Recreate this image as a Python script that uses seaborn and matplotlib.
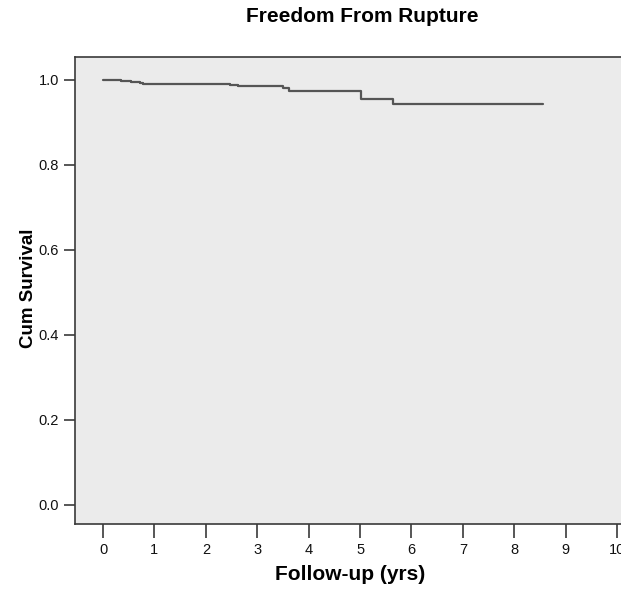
import matplotlib
matplotlib.use("Agg")
import matplotlib.pyplot as plt
import seaborn as sns
import pandas as pd

# Kaplan-Meier estimate
follow_up_yrs = [0.0, 0.35, 0.55, 0.72, 0.78, 2.47, 2.63, 3.50, 3.62, 5.02, 5.65, 8.55]
cum_survival = [1.0, 0.997, 0.995, 0.993, 0.990, 0.989, 0.985, 0.980, 0.974, 0.955, 0.944, 0.944]
x_ticks = list(range(0, 11))
y_ticks = [0.0, 0.2, 0.4, 0.6, 0.8, 1.0]

sns.set_style("ticks", {"axes.facecolor": "#EBEBEB", "axes.edgecolor": "#3a3a3a",
                        "text.color": "black", "axes.labelcolor": "black"})
plt.rcParams["font.family"] = ["Liberation Sans", "DejaVu Sans"]

df = pd.DataFrame({"Follow-up (yrs)": follow_up_yrs, "Cum Survival": cum_survival})

fig = plt.figure(figsize=(6.21, 5.92), dpi=100)
ax = fig.add_axes([75 / 621, 68 / 592, 576 / 621, 467 / 592])

sns.lineplot(data=df, x="Follow-up (yrs)", y="Cum Survival", drawstyle="steps-post",
             color="#555555", linewidth=1.6, ax=ax, estimator=None)

ax.set_xlim(-0.545, 10.66)
ax.set_ylim(-0.045, 1.054)
ax.set_xticks(x_ticks)
ax.set_yticks(y_ticks)
ax.set_yticklabels([f"{v:.1f}" for v in y_ticks])
ax.tick_params(axis="both", labelsize=10.5, colors="#3a3a3a", labelcolor="#111111", width=1.2)
ax.tick_params(axis="x", length=10)
ax.tick_params(axis="y", length=8)
for s in ax.spines.values():
    s.set_visible(True)
    s.set_linewidth(1.2)

ax.set_xlabel("Follow-up (yrs)", fontsize=15, fontweight="bold", color="black")
ax.set_ylabel("Cum Survival", fontsize=13.5, fontweight="bold", color="black")
ax.xaxis.set_label_coords(0.477, -0.088)
ax.yaxis.set_label_coords(-0.066, 0.505)

fig.text(362 / 621, 1 - 17 / 592, "Freedom From Rupture", ha="center", va="center",
         fontsize=15, fontweight="bold", color="black")

fig.savefig("out.png", dpi=100)
